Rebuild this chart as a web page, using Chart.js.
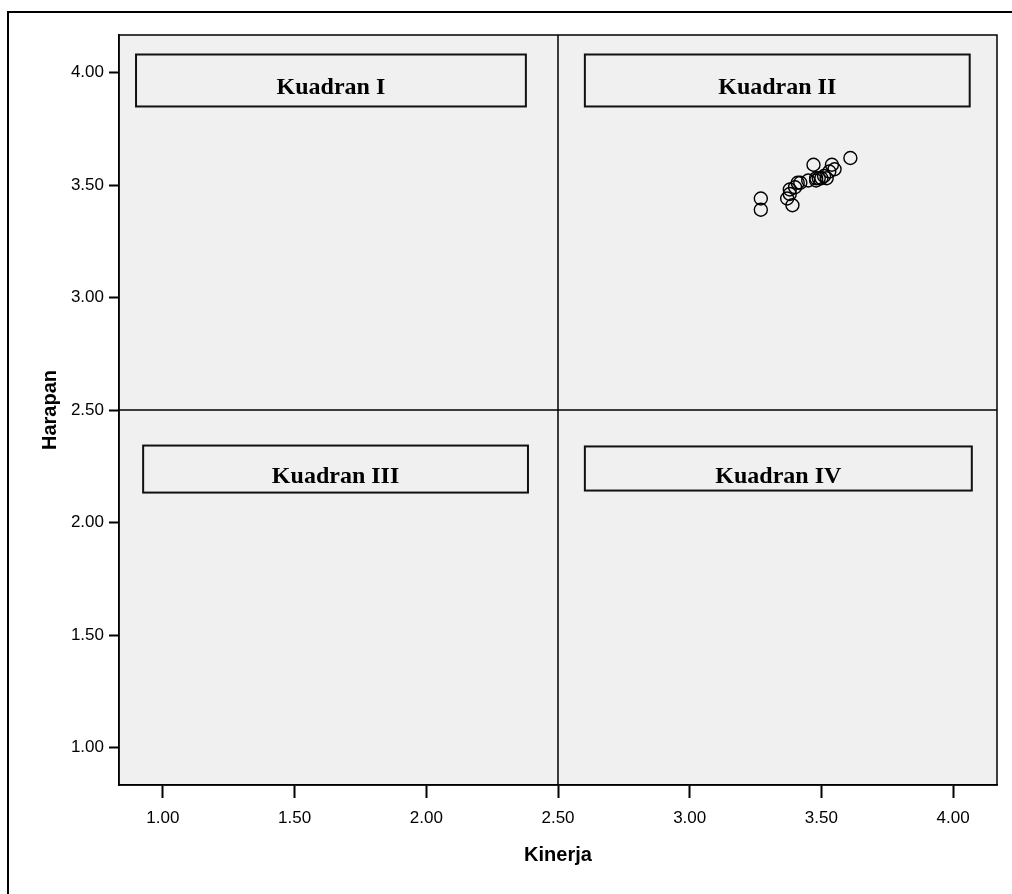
<!DOCTYPE html>
<html>
<head>
<meta charset="utf-8">
<script src="https://cdn.jsdelivr.net/npm/chart.js@4/dist/chart.umd.min.js"></script>
<style>
  html, body { margin: 0; padding: 0; background: #ffffff; }
  #wrap { position: relative; width: 1012px; height: 894px; }
</style>
</head>
<body>
<div id="wrap"><canvas id="c" width="1012" height="894"></canvas></div>
<script>
// ---- data ----
const kinerja = [3.27, 3.27, 3.39, 3.37, 3.38, 3.38, 3.40, 3.41, 3.42, 3.45, 3.47, 3.54, 3.55, 3.61, 3.48, 3.49, 3.50, 3.48, 3.51, 3.53, 3.52];
const harapan = [3.44, 3.39, 3.41, 3.44, 3.46, 3.48, 3.49, 3.51, 3.51, 3.52, 3.59, 3.59, 3.57, 3.62, 3.53, 3.53, 3.53, 3.52, 3.54, 3.56, 3.53];
const xTicks = [1.00, 1.50, 2.00, 2.50, 3.00, 3.50, 4.00];
const yTicks = [1.00, 1.50, 2.00, 2.50, 3.00, 3.50, 4.00];
const xTitle = 'Kinerja';
const yTitle = 'Harapan';
const quadrantLabels = ['Kuadran I', 'Kuadran II', 'Kuadran III', 'Kuadran IV'];
const midValue = 2.5;

// annotation boxes (data units) for the quadrant labels
const quadrantBoxes = [
  { x0: 0.898, x1: 2.378, y0: 3.849, y1: 4.080 },
  { x0: 2.602, x1: 4.063, y0: 3.849, y1: 4.080 },
  { x0: 0.925, x1: 2.386, y0: 2.133, y1: 2.342 },
  { x0: 2.602, x1: 4.071, y0: 2.142, y1: 2.338 }
];

const points = kinerja.map((x, i) => ({ x: x, y: harapan[i] }));

const decorPlugin = {
  id: 'decor',
  beforeDraw(chart) {
    const ctx = chart.ctx;
    const a = chart.chartArea;
    ctx.save();
    ctx.fillStyle = '#ffffff';
    ctx.fillRect(0, 0, chart.width, chart.height);
    // outer frame
    ctx.strokeStyle = '#000000';
    ctx.lineWidth = 2;
    ctx.beginPath();
    ctx.moveTo(8, chart.height + 2);
    ctx.lineTo(8, 12);
    ctx.lineTo(chart.width + 2, 12);
    ctx.stroke();
    // plot background
    ctx.fillStyle = '#f0f0f0';
    ctx.fillRect(a.left, a.top, a.right - a.left, a.bottom - a.top);
    ctx.restore();
  },
  beforeDatasetsDraw(chart) {
    const ctx = chart.ctx;
    const a = chart.chartArea;
    const xs = chart.scales.x, ys = chart.scales.y;
    ctx.save();
    // quadrant lines
    ctx.strokeStyle = '#000000';
    ctx.lineWidth = 1.5;
    const mx = xs.getPixelForValue(midValue);
    const my = ys.getPixelForValue(midValue);
    ctx.beginPath();
    ctx.moveTo(mx, a.top); ctx.lineTo(mx, a.bottom);
    ctx.moveTo(a.left, my); ctx.lineTo(a.right, my);
    ctx.stroke();
    // quadrant label boxes
    quadrantBoxes.forEach((b, i) => {
      const l = xs.getPixelForValue(b.x0), r = xs.getPixelForValue(b.x1);
      const t = ys.getPixelForValue(b.y1), btm = ys.getPixelForValue(b.y0);
      ctx.lineWidth = 2;
      ctx.strokeStyle = '#111111';
      ctx.strokeRect(l, t, r - l, btm - t);
      ctx.fillStyle = '#000000';
      ctx.font = 'bold 24px "Liberation Serif", "Times New Roman", serif';
      ctx.textAlign = 'center';
      ctx.textBaseline = 'alphabetic';
      ctx.fillText(quadrantLabels[i], (l + r) / 2, (t + btm) / 2 + 14);
    });
    ctx.restore();
  },
  afterDraw(chart) {
    const ctx = chart.ctx;
    const a = chart.chartArea;
    ctx.save();
    ctx.strokeStyle = '#000000';
    ctx.lineWidth = 1.5;
    ctx.strokeRect(a.left, a.top, a.right - a.left, a.bottom - a.top);
    ctx.restore();
  }
};

new Chart(document.getElementById('c'), {
  type: 'scatter',
  data: {
    datasets: [{
      data: points,
      pointStyle: 'circle',
      pointRadius: 6.5,
      pointHoverRadius: 6.5,
      pointBackgroundColor: 'rgba(0,0,0,0)',
      pointBorderColor: '#000000',
      pointBorderWidth: 1.4
    }]
  },
  options: {
    responsive: false,
    animation: false,
    events: [],
    layout: { padding: { left: 0, top: 35, right: 15, bottom: 0 } },
    plugins: { legend: { display: false }, tooltip: { enabled: false } },
    scales: {
      x: {
        type: 'linear',
        min: 5 / 6,
        max: 25 / 6,
        afterBuildTicks: (s) => { s.ticks = xTicks.map(v => ({ value: v })); },
        afterFit: (s) => { s.height = 109; },
        ticks: {
          autoSkip: false,
          maxRotation: 0,
          padding: 10,
          color: '#000000',
          font: { family: '"Liberation Sans", Arial, sans-serif', size: 17 },
          callback: (v) => Number(v).toFixed(2)
        },
        grid: { display: true, drawOnChartArea: false, drawTicks: true, tickLength: 13, tickColor: '#000000', tickWidth: 2 },
        border: { display: true, color: '#000000', width: 1.5 },
        title: {
          display: true,
          text: xTitle,
          color: '#000000',
          font: { family: '"Liberation Sans", Arial, sans-serif', size: 20, weight: 'bold' },
          padding: { top: 0, bottom: 27 }
        }
      },
      y: {
        type: 'linear',
        min: 5 / 6,
        max: 25 / 6,
        afterBuildTicks: (s) => { s.ticks = yTicks.map(v => ({ value: v })); },
        afterFit: (s) => { s.width = 119; },
        ticks: {
          autoSkip: false,
          padding: 5,
          color: '#000000',
          font: { family: '"Liberation Sans", Arial, sans-serif', size: 17 },
          callback: (v) => Number(v).toFixed(2)
        },
        grid: { display: true, drawOnChartArea: false, drawTicks: true, tickLength: 10, tickColor: '#000000', tickWidth: 2 },
        border: { display: true, color: '#000000', width: 1.5 },
        title: {
          display: true,
          text: yTitle,
          color: '#000000',
          font: { family: '"Liberation Sans", Arial, sans-serif', size: 20, weight: 'bold' },
          padding: { top: 38, bottom: 0 }
        }
      }
    }
  },
  plugins: [decorPlugin]
});
</script>
</body>
</html>
